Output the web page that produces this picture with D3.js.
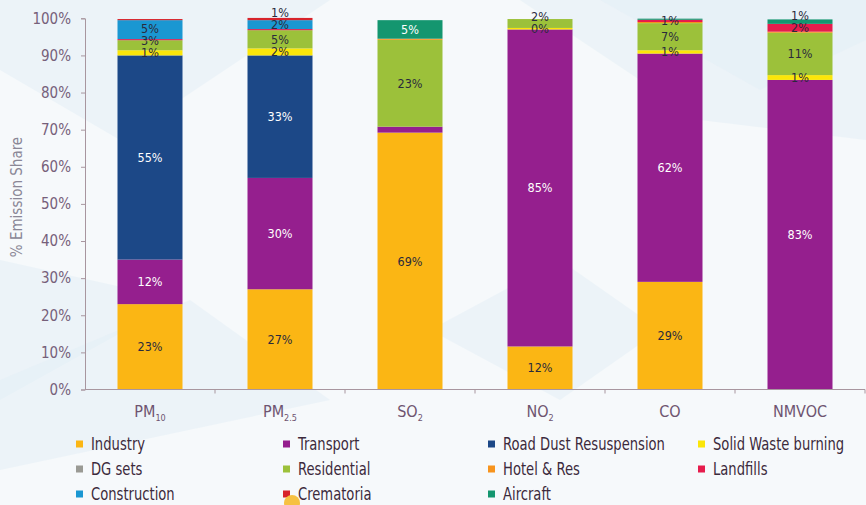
<!DOCTYPE html>
<html>
<head>
<meta charset="utf-8">
<script src="https://cdn.jsdelivr.net/npm/d3@7/dist/d3.min.js"></script>
<style>
  html, body { margin: 0; padding: 0; background: #ffffff; }
  svg { display: block; }
  text { font-family: "DejaVu Sans Condensed", "Liberation Sans Narrow", "Roboto", sans-serif; }
</style>
</head>
<body>
<svg id="chart" width="866" height="505"></svg>
<script>
// ---------- DATA ----------
const categories = ["PM10", "PM2.5", "SO2", "NO2", "CO", "NMVOC"];
const categoryMain = ["PM", "PM", "SO", "NO", "CO", "NMVOC"];
const categorySub = ["10", "2.5", "2", "2", "", ""];

const seriesNames = ["Industry", "Transport", "Road Dust Resuspension", "Solid Waste burning",
  "DG sets", "Residential", "Hotel & Res", "Landfills", "Construction", "Crematoria", "Aircraft"];
const seriesColors = ["#fbb614", "#951f8e", "#1c4887", "#fbe609", "#9a9a94", "#9cc13a",
  "#f7941d", "#e61c4c", "#1a97d2", "#d7232b", "#14966f"];

// values per category: PM10, PM2.5, SO2, NO2, CO, NMVOC
const industry     = [23,   27,   69.2, 11.6, 29,   0];
const transport    = [12,   30,   1.6,  85.4, 61.5, 83.4];
const roadDust     = [55,   33,   0,    0,    0,    0];
const solidWaste   = [1.4,  1.9,  0,    0.4,  0.9,  1.3];
const dgSets       = [0,    0,    0,    0,    0,    0];
const residential  = [2.7,  4.9,  23.4, 2.4,  7.3,  11.4];
const hotelRes     = [0,    0,    0.3,  0,    0.3,  0.3];
const landfills    = [0.3,  0.3,  0,    0,    0.6,  2.1];
const construction = [5.1,  2.4,  0,    0,    0,    0];
const crematoria   = [0.3,  0.6,  0,    0,    0,    0];
const aircraft     = [0,    0,    5.0,  0,    0.3,  1.2];

const seriesValues = [industry, transport, roadDust, solidWaste, dgSets, residential,
  hotelRes, landfills, construction, crematoria, aircraft];

// segments the reference leaves without a label
const unlabeled = [["SO2", "Transport"]];

const yTicks = [0, 10, 20, 30, 40, 50, 60, 70, 80, 90, 100];
const yTitle = "% Emission Share";

// ---------- LAYOUT ----------
const svg = d3.select("#chart");
const W = 866, H = 505;
const mLeft = 85, mRight = 865, mTop = 18.3, mBottom = 389.5;

// background decoration
const bg = svg.append("g");
bg.append("rect").attr("width", W).attr("height", H).attr("fill", "#f6f9fb");
const polys = [
  [[0,0],[330,0],[120,140],[0,70]],
  [[0,260],[180,300],[0,400]],
  [[0,380],[190,300],[330,400],[0,470]],
  [[520,0],[866,0],[866,140],[700,120]],
  [[600,0],[760,90],[866,40],[866,0]],
  [[430,330],[560,260],[660,330],[560,400]]
];
bg.selectAll("polygon").data(polys).join("polygon")
  .attr("points", d => d.map(p => p.join(",")).join(" "))
  .attr("fill", "#e3eef5").attr("opacity", 0.55);

const x = d3.scaleBand().domain(categories).range([mLeft, mRight])
  .paddingInner(0.5).paddingOuter(0.25);
const y = d3.scaleLinear().domain([0, 100]).range([mBottom, mTop]);

// stacked data
const table = categories.map((c, i) => {
  const o = { cat: c };
  seriesNames.forEach((s, j) => { o[s] = seriesValues[j][i]; });
  return o;
});
const stack = d3.stack().keys(seriesNames)(table);

// bars
const barG = svg.append("g");
stack.forEach((layer, j) => {
  barG.selectAll(null).data(layer.filter(d => d[1] - d[0] > 0)).join("rect")
    .attr("x", d => x(d.data.cat))
    .attr("width", x.bandwidth())
    .attr("y", d => y(d[1]))
    .attr("height", d => y(d[0]) - y(d[1]))
    .attr("fill", seriesColors[j]);
});

// labels with simple push-up overlap resolution
const darkSeries = new Set(["Transport", "Road Dust Resuspension", "Aircraft"]);
const labelG = svg.append("g");
categories.forEach((c, i) => {
  let prevY = Infinity;
  stack.forEach((layer, j) => {
    const d = layer[i];
    const v = d[1] - d[0];
    if (v < 0.4) return;
    if (unlabeled.some(u => u[0] === c && u[1] === seriesNames[j])) return;
    let cy = (y(d[0]) + y(d[1])) / 2;
    if (cy > prevY - 12) cy = prevY - 12;
    prevY = cy;
    const white = darkSeries.has(seriesNames[j]) && v >= 3;
    labelG.append("text")
      .attr("x", x(c) + x.bandwidth() / 2)
      .attr("y", cy)
      .attr("dy", "0.36em")
      .attr("text-anchor", "middle")
      .attr("font-size", 12.5)
      .attr("fill", white ? "#ffffff" : "#2a2a3c")
      .text(Math.round(v) + "%");
  });
});

// y axis
const axisColor = "#a8969f";
const yAxis = svg.append("g").attr("transform", `translate(${mLeft},0)`)
  .call(d3.axisLeft(y).tickValues(yTicks).tickFormat(d => d + "%").tickSize(4).tickPadding(10));
yAxis.select(".domain").attr("stroke", axisColor);
yAxis.selectAll(".tick line").attr("stroke", axisColor);
yAxis.selectAll(".tick text").attr("font-size", 15).attr("fill", "#76607a")
  .style("font-family", '"DejaVu Sans Condensed", sans-serif');

// x axis (ticks at band boundaries)
const xAxis = svg.append("g").attr("transform", `translate(0,${mBottom})`);
xAxis.append("line").attr("x1", mLeft).attr("x2", mRight).attr("y1", 0).attr("y2", 0)
  .attr("stroke", axisColor);
const step = x.step();
const bounds = categories.map(c => x(c) - x.paddingOuter() * step).concat([mRight]);
xAxis.selectAll("line.tk").data(bounds.slice(1)).join("line").attr("class", "tk")
  .attr("x1", d => d).attr("x2", d => d).attr("y1", 0).attr("y2", 4).attr("stroke", axisColor);

categories.forEach((c, i) => {
  const t = xAxis.append("text")
    .attr("x", x(c) + x.bandwidth() / 2)
    .attr("y", 27)
    .attr("text-anchor", "middle")
    .attr("font-size", 16)
    .attr("fill", "#6e5470");
  t.append("tspan").text(categoryMain[i]);
  if (categorySub[i]) {
    t.append("tspan").attr("font-size", 9).attr("dy", 4).text(categorySub[i]);
  }
});

// y title
svg.append("text")
  .attr("transform", `translate(22,197) rotate(-90)`)
  .attr("text-anchor", "middle")
  .attr("font-size", 15)
  .attr("fill", "#8a8796")
  .text(yTitle);

// legend
const legCols = [76, 283, 488, 698];
const legRows = [444, 469, 494];
const legG = svg.append("g");
seriesNames.forEach((s, j) => {
  const col = j % 4, row = Math.floor(j / 4);
  const gx = legCols[col], gy = legRows[row];
  legG.append("rect").attr("x", gx).attr("y", gy - 3.5).attr("width", 7).attr("height", 7)
    .attr("fill", seriesColors[j]);
  legG.append("text")
    .attr("transform", `translate(${gx + 15},${gy}) scale(0.86,1)`)
    .attr("dy", "0.35em")
    .attr("font-size", 17).attr("fill", "#3c2a3c").text(s);
});

// decorative dot near legend
svg.append("circle").attr("cx", 292).attr("cy", 503).attr("r", 8).attr("fill", "#f6c143");
</script>
</body>
</html>
